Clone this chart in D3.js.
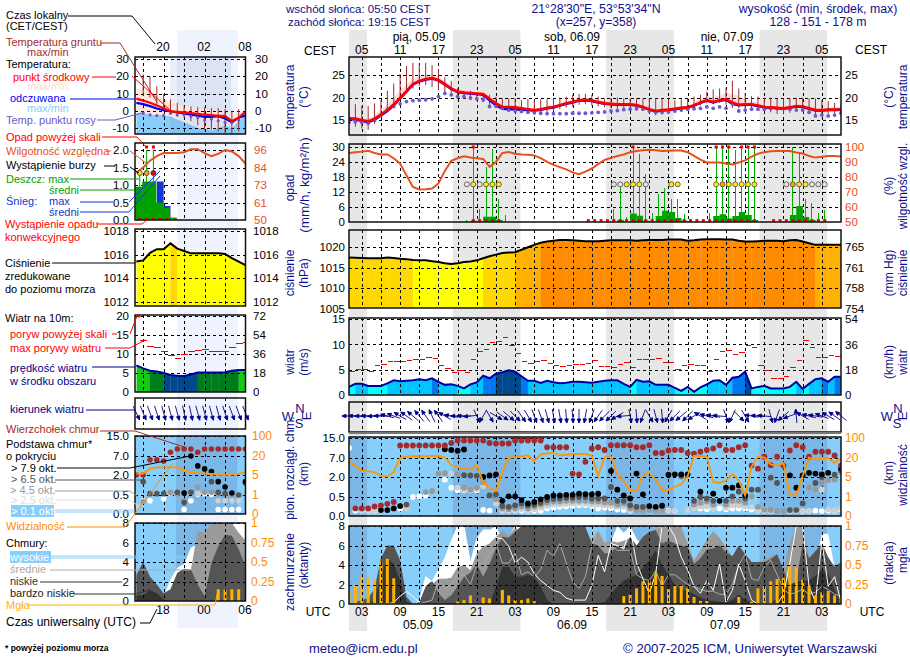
<!DOCTYPE html>
<html>
<head>
<meta charset="utf-8">
<title>meteogram</title>
<script src="https://cdn.jsdelivr.net/npm/d3@7"></script>
<style>
  body { margin: 0; background: #fff; }
  svg { display: block; font-family: "Liberation Sans", Arial, sans-serif; }
  .grid line { stroke: #000; stroke-dasharray: 3 3; shape-rendering: crispEdges; }
  .grid text, .grid path { display: none; }
  .frame { fill: none; stroke: #111; stroke-width: 1.5; }
</style>
</head>
<body>
<svg id="chart" width="910" height="660"></svg>
<script>
// ---- main chart, one value per hour from 01 UTC 05.09
var tempMean = [15.4,15.3,15.0,14.7,15.3,16.2,17.2,18.5,19.9,21.4,
  23.0,23.7,24.1,24.3,23.9,23.0,22.0,21.3,21.1,21.0,
  20.9,20.8,19.7,18.7,17.9,17.9,17.8,17.6,17.4,17.2,
  17.4,17.7,17.9,18.3,18.7,19.0,19.4,19.5,19.3,19.0,
  18.7,18.6,18.5,18.5,18.5,18.3,17.9,17.4,17.0,17.2,
  17.3,17.5,17.7,17.8,18.3,18.9,19.4,19.0,19.4,19.6,
  18.9,18.4,18.5,18.5,18.2,17.9,17.8,17.7,17.6,17.8,
  18.1,18.0,17.6,17.2,17.2,17.3,17.3,17.4];
var tempMax = [15.9,15.8,15.5,15.2,16,17.2,18.5,20,21.6,23,
  24.2,24.8,25,25,24.6,23.6,22.7,22,21.8,21.7,
  21.5,21.3,20.2,19.1,18.3,18.2,18.1,17.9,17.7,17.5,
  17.7,18,18.3,18.7,19.1,19.5,19.9,20,19.8,19.5,
  19.2,19,18.9,18.9,18.9,18.7,18.3,17.8,17.4,17.6,
  17.7,17.9,18.1,18.3,18.8,19.6,20.1,20.1,20.4,21,
  20.8,20.4,19.6,19.2,18.8,18.4,18.2,18.1,18,18.2,
  18.5,18.5,18.1,17.7,17.7,17.8,17.8,17.9];
var tempMin = [14.6,14.6,14.5,14.2,14.8,15.7,16.7,17.7,19.3,20.9,
  22.4,23.1,23.5,23.7,23.3,22.4,21.4,20.8,20.6,20.5,
  20.4,20.3,19.2,18.2,17.4,17.4,17.3,17.1,16.9,16.7,
  16.9,17.2,17.5,17.9,18.3,18.6,19,19.1,18.9,18.6,
  18.3,18.2,18.1,18.1,18.1,17.9,17.5,17,16.6,16.8,
  16.9,17.1,17.3,17.4,17.9,18.5,19,18.6,19,19.1,
  18.4,18,18.1,18.1,17.8,17.5,17.4,17.3,17.2,17.4,
  17.7,17.6,17.2,16.8,16.8,16.9,16.9,17];
var feelsLike = [15.2,15.1,14.8,14.5,15.1,16,17,18.3,19.8,21.3,
  22.9,23.6,24,24.2,23.8,22.9,21.9,21.2,21,20.9,
  20.8,20.6,19.4,18.3,17.5,17.4,17.4,17.3,17.2,17.1,
  17.3,17.6,17.8,18.2,18.6,18.9,19.3,19.4,19.2,18.9,
  18.6,18.5,18.4,18.4,18.4,18.2,17.8,17.3,16.9,17.1,
  17.2,17.4,17.6,17.7,18.2,18.8,19.3,18.9,19.3,19.5,
  18.6,18.3,18.4,18.4,18.1,17.8,17.7,17.6,17.5,17.7,
  18,17.9,17.5,17.1,17.1,17.2,17.2,17.3];
var dewPoint = [14.5,14.6,14.5,14.3,14.9,16.1,17.3,18.0,18.6,19.1,
  19.3,19.4,19.5,19.7,20.2,20.9,20.6,20.2,20.2,19.9,
  19.7,19.5,18.0,18.1,17.6,17.2,17.0,16.9,16.7,16.6,
  16.5,16.4,16.4,16.4,16.4,16.5,16.5,16.5,16.6,16.7,
  16.8,17,17.1,17.3,17.4,17.5,17.4,17,16.7,16.7,
  16.8,17,17.2,17.4,17.5,17.6,17.9,17.6,17.9,17.6,
  18.6,17,17.2,17.4,17.4,17.4,17.5,17.5,17.5,17.4,
  17.2,17.2,16.7,15.9,16.1,15.9,16.1,16.5];
var groundMax = [17.2,18.5,18.1,18.1,18.7,19.4,21.5,23.1,25.2,27,
  27.7,27.7,27.7,27.2,26.3,24.5,23.7,22,21.5,21.5,
  20.9,20.6,20.6,20.2,19.8,19.8,19.8,19.4,19.6,19.6,
  19.6,19.6,19.8,20,20.2,20.6,20.8,20.8,20.6,20.2,
  19.8,19.9,20,19.8,19.8,19.8,19.8,19.8,19.8,19.6,
  19.6,19.4,19.6,19.8,20.2,20.6,21.3,21.8,22,22.2,
  23.7,22,21,20.3,20.2,20,20,19.8,19.8,19.8,
  20,20,19.8,19.8,19.4,19.2,18.8,18.5];
var groundMin = [14.4,13.5,13.1,12.8,14.1,15.7,16.9,17.8,19.4,21.3,
  22,22.6,22.8,22.3,21.7,20.9,20.6,19.7,19.7,19.4,
  19.4,19,18.3,17.6,17.2,17,17,16.8,16.5,16.4,
  16.5,16.8,17,17.4,17.8,18,18.4,18.5,18.2,18,
  17.8,17.6,17.5,17.4,17.5,17.3,17,16.4,16,16.2,
  16.4,16.6,16.8,17,17.6,18.2,18.7,18.5,18.8,18.4,
  17.7,17.6,17.6,17.6,17.3,17,16.7,16.3,16.4,16.6,
  17,17,16.6,16.2,16.2,16.4,16.5,16.6];
var humidity = [96,96.5,96.9,97.5,96,95,95,92.5,88.9,81,
  73.3,71.6,71.8,72.2,75.6,84,90.7,92.5,93.8,93,
  92.5,92,86.7,90,96,96.7,95.5,95,94.8,94.4,
  92.5,90,88,86.5,85,83,81.8,83.5,85.6,88.5,
  91.3,92.7,94,95,96.5,97.3,97.9,98.2,97.9,97.3,
  97.5,97.7,97.7,96.5,94,91.5,89.6,89.6,89.6,89,
  88.3,89.6,91,93.5,95.5,96.5,97.2,97.3,97.3,97.3,
  96.3,95.6,94,92.9,93.5,94,94,93.7];
var pressure = [1017.5,1017.45,1017.4,1017.3,1017.3,1017.3,1017.5,1017.4,1017.2,1017.1,
  1016.9,1016.8,1016.8,1016.6,1016.4,1016.1,1015.9,1016.1,1016.4,1016.5,
  1016.8,1017.3,1017.8,1018.2,1018.6,1018.7,1018.8,1019.4,1020,1020.6,
  1021.1,1021.4,1021.6,1021.8,1021.8,1021.7,1021.6,1021.5,1021.5,1021.5,
  1021.6,1021.7,1021.7,1021.7,1021.7,1021.6,1021.7,1021.8,1021.8,1021.8,
  1021.9,1021.9,1021.9,1021.6,1021.7,1021.9,1022,1022,1022,1021.9,
  1021.9,1021.6,1021.4,1021.4,1021.5,1021.6,1021.6,1021.6,1021.5,1021.7,
  1021.8,1021.4,1021,1020.6,1020.6,1020.6,1020.6,1020.6];
var windSpeed = [1.6,2.2,2.2,1.8,1.8,1.8,2.3,2.9,2.7,2.8,
  2.9,3.1,2.9,3.3,2.6,2,2.1,1.8,1.3,2.1,
  2.5,3.8,3.3,4.2,4.5,4.9,4.6,3.7,2.8,2.8,
  2.4,2.8,2.5,2.3,2.4,2.6,2.6,2.5,2.4,2.6,
  2.8,2.9,2.9,2.2,1.6,3,2.6,2.7,2,2,
  2,1.4,0.8,1.6,0.65,1.5,2.1,2.8,2.9,2,
  3.4,3.6,4.6,1.3,1.6,1.8,1.3,1.3,1.3,1.6,
  2.6,1.2,2.2,3.1,3.3,2.6,3.6,3.6];
var windGust = [4.7,5,5,4.7,5.8,6,6.7,6.7,6.6,6.8,
  7,7,7.5,7.2,5.8,5.2,4.5,4.8,4.5,7,
  8.6,9,10.3,10.6,11.3,9.8,8.2,6.7,6.3,6.6,
  6.8,6.3,5.8,5.6,5.8,6,6,6.3,6.8,5.6,
  5.6,5.4,6,6.4,5.4,7,7,7,7.2,6.4,
  6.4,5,5.8,6,5.8,5.8,4.6,7,8.6,8.8,
  8,8.4,9.7,9.4,5.8,4.8,3.2,3.2,3.7,5.4,
  6.8,10.7,9.4,7.4,7.4,7.8,7.6,8];
var windDir = [270,272,270,270,268,272,285,290,300,305,
  310,320,325,335,325,300,280,270,270,265,
  155,210,150,120,125,130,135,145,150,160,
  160,165,170,170,175,175,180,190,200,215,
  225,225,240,265,170,175,200,150,165,175,
  210,225,230,225,240,300,285,280,275,160,
  205,135,150,280,275,275,165,200,230,250,
  355,300,285,280,290,300,305,310];
var visibility = [17.5,13.5,10,9.4,8.9,6,5.3,9,20,26,
  27,27,27,28,29,22,14.5,12.5,11.5,11,
  14.5,4,2.8,2.2,9,22,23,26,31,17.5,
  35,38,40,31,33,36,36,36,29,5.9,
  23,26,7,4.2,2.2,2.2,6.3,8.4,4.5,2.4,
  2.4,3,3.6,5.5,29,28,26,4,3.8,4.3,
  7.5,4.3,1.3,13,26,22,15,14,16,1.4,
  1.3,6,22,19,20,20,16,20];
var cloudHigh = [0,0,0,0,0,0,0,0,0,0,
  0,0.3,2.8,2.3,3.5,4.7,6.4,8,8,4.2,
  6.7,7.6,7.6,8,6.7,6.9,8,8,6,6,
  6,6,6,6,6,6,6,6,4,5,
  5,6.4,8,7.3,8,6.7,6,6,6,6,
  4,4,4,4,3,3,3,3,3,3,
  3,3,3,3,3,3,3,3,3,4,
  8,8,4,4,7.2,7.2,3.8,3];
var cloudMid = [0,0,0,0,0,0,0,0,0,0,
  0,0,0,2,2.6,2.6,2.7,3.8,4,3.5,
  5.2,5.9,6.2,6.9,7.5,7,7.8,7.5,7.5,7.5,
  7.5,7.5,7.5,7.5,7.5,7.5,7.5,7.5,6.5,7.6,
  6.3,6.5,6.3,6.5,6.8,6,6.5,7.4,7.6,8,
  8,8,7.9,6.2,4.5,5.5,6.6,7.5,6.8,5.8,
  4.9,6,5.1,4.3,4.3,4.5,4.9,5.1,3.5,6.3,
  8,8,4.8,5.5,5.9,4.3,4,4.1];
var cloudLow = [0,0.2,0.4,0.6,1.6,4.7,6,6,4.5,0.75,
  0,0.2,1.8,2.4,1.1,0.4,0.9,1.8,2.8,3.2,
  4.1,2.8,4.1,5.7,6.9,6.8,7.4,8,7.9,7.9,
  7.9,7.9,7.9,7.9,7.9,7.9,7.9,7.9,6.2,6,
  5.2,5.2,6,5.5,6.9,6,6.9,7.4,7.6,6.2,
  6.5,6.2,6,5.8,4.1,4.7,5.6,5.7,6,5.3,
  4.9,6,5.1,4.3,4.3,4.3,4.6,5.1,3.5,2,
  2.3,6.2,4.7,5.4,6.2,4.8,3.8,4.3];
var cloudVeryLow = [0,0,0,0,0.4,2.8,4.7,4.1,2.4,0.2,
  0,0,0,0,0,0,0,0,0,0,
  0,0,0,1.8,3.8,3.8,2.8,2.8,3,2.8,
  1.8,0.4,0,0,0,0,0,0,0,0.1,
  0.2,1,1.8,2.4,2.7,3,3.7,4.5,5.5,4,
  3,2,1.4,1.4,1,0.7,0.4,0.3,0.2,0.2,
  0.4,1,0.4,0.2,0.1,0.1,0.1,0.6,1.4,1.9,
  2.3,2.4,2.4,2.9,3.5,3.1,1.5,0];
var lineHigh = [0,0,0,0,0,0,0,0.17,0.8,1.3,
  0.75,0.2,2.8,2.3,3.5,4.7,6.4,8,8,4.2,
  6.7,7.6,7.6,6.8,6.7,5.9,4.2,4.8,4.3,3.1,
  2.4,1.9,1.4,1.2,0.6,0.4,0.4,0.4,1.9,5,
  3.3,6.2,6,5.7,7.8,4.2,2.6,1.1,3.1,8,
  8,6.9,4.8,3.5,1.8,1.1,2.4,1.4,4.1,0.2,
  1.4,4.1,2.4,0.4,0,0,0,0,1,4.2,
  8,8,1.8,0.2,6.5,1.8,2.8,0.2];
var lineMid = [0,0,0,0,0,0,0,0,0,0,
  0,0,0.2,0.4,2.4,1.5,2,3,3,2,
  4,4,5,6.2,4.2,4.2,5.2,3,3.3,2.8,
  3.5,5.5,4.9,6.2,4.2,2.3,1.6,2.8,6,7.5,
  6.2,6,5.5,5.5,5.5,3,2.6,2.4,3.4,1.8,
  3,3,2.5,2,1.8,1.5,1.3,1.3,1,1,
  2,4,5.1,2.6,2.4,3.8,4.5,3,1.5,1,
  1.2,1.5,1,1.2,1.8,1.5,1,0.8];
var fogIdx = [0,1,2,3,4,5,6,7,8,17,18,19,21,22,24,25,26,27,28,29,30,
  43,44,45,46,47,48,49,50,51,52,53,54,55,56,61,63,64,65,66,67,68,69,70,71,72,73,74,75,76,77];
var fogVal = [0.16,0.24,0.34,0.34,0.32,0.54,0.58,0.33,0.01,0.03,0.05,0.11,0.085,0.07,0.18,0.11,0.05,0.05,0.07,0.04,0.01,
  0.1,0.12,0.2,0.29,0.29,0.39,0.36,0.19,0.24,0.24,0.2,0.09,0.04,0.04,0.09,0.03,0.2,0.24,0.29,0.32,0.33,0.49,0.47,0.31,0.24,0.11,0.15,0.17,0.11,0.05];

// precipitation, index is the hour the amount falls in
var rainMaxIdx = [18,19,20,21,22,23,24,41,42,43,44,45,46,47,48,49,50,51,52,56,57,58,59,60,61,62,63,69,70,71,72,73,74];
var rainMaxVal = [0.8,30,5,22,29,9,2.7,4.9,14,2,30,27,19,3.3,11,13.7,9,9,3,3.3,30,30,30,28.7,30,30,30,30,28,9,7.6,3.3,4.7];
var rainAvgIdx = [19,20,21,22,23,42,44,45,46,48,49,50,51,52,57,58,59,60,61,62,63,69,70,71,72];
var rainAvgVal = [0.4,0.3,2,2,0.7,0.7,3.3,2.4,0.4,2.3,4.4,3.9,1.5,0.4,2.3,3,1.3,2.3,3.9,2.7,0.7,2.7,6.3,1.9,0.7];
var rainOverIdx = [19,44,57,58,59,61,62,63];
var convIdx = [19,20,21,22,23,37,38,39,40,41,42,43,44,45,46,47,48,49,50,51,52,53,54,55,56,57,58,59,60,61,62,63,66,67,68,69,70,71,72,73,74];
var stormIdx = [18,19,20,21,22,23,41,42,43,44,45,46,50,51,57,58,59,60,61,62,63,68,69,70,71,72,73,74];
var stormLevel = [0,1,0,1,1,1,0,0,1,1,1,0,1,1,1,2,1,1,1,1,1,0,2,1,1,0,0,0];

// cloud dots as [hour, km]
var cloudTops = [[1,.2],[2,.2],[3,.2],[4,.25],[5,.28],[6,.32],[7,.37],[8,12],[9,12],[10,12],[11,12],[12,12],[13,12],[14,12],[15,12],
  [16,13],[17,14],[18,14],[19,14],[20,14],[21,14],[22,13],[23,12.8],[24,12.8],[25,12.8],[26,14],[27,14],[28,14],[29,14],[30,14],
  [31,11.3],[32,11.3],[33,11.3],[34,11.3],[35,2.9],[36,2.7],[37,6],[38,10.8],[39,11.3],[40,10.2],[41,12.1],[42,12.1],[43,12.1],[44,12.1],
  [45,11.3],[46,11.3],[47,12.1],[48,9],[49,9],[50,10],[51,10.2],[52,10.2],[53,9],[54,8.7],[55,9.5],[56,10.2],[57,10.8],[58,12.1],[59,10.2],
  [60,10.2],[61,11.3],[62,12.1],[63,5],[64,4.2],[65,7.5],[66,5.1],[67,7.5],[68,5],[69,10],[70,12.1],[71,11.3],[72,7.5],[73,9.5],[74,9.5],[75,9.5],[76,8],[77,5]];
var base79 = [[5,.155],[6,.155],[7,.2],[8,.26],[15,10.5],[16,10.2],[17,9.9],[18,10.4],[21,2],[22,2.4],[23,2.7],[24,.4],[25,.55],[26,.55],[27,.42],[28,.33],[29,.37],[30,.44],
  [31,.5],[32,.62],[33,.62],[34,.66],[35,.66],[36,.75],[37,.72],[38,.7],[39,.75],[41,3.6],[42,1.05],[43,.62],[44,.46],[45,2.9],[46,.7],[47,.26],[48,.24],[49,.27],
  [50,2.6],[51,2.7],[52,2.7],[53,2.7],[55,.9],[57,.75],[58,.4],[59,1.2],[60,1.2],[61,1.37],[62,.62],[69,2.45],[70,1.2],[71,2.45],[72,3.1],[73,2.9],[74,2.7],[75,3.1],[77,4.3]];
var base65 = [[9,.3],[18,2.5],[19,2.4],[20,2.3],[22,.62],[23,.7],[24,.26],[25,.24],[26,.28],[27,.33],[28,.28],[29,.3],[30,.35],[31,.42],[32,.45],[33,.46],[34,.48],[35,.48],
  [36,.5],[37,.5],[38,.46],[39,.46],[40,.46],[41,1.25],[42,.4],[43,.4],[44,.28],[45,.24],[46,.24],[52,2.3],[54,.4],[55,.5],[56,.46],[57,.4],[59,.4],[60,.55],[61,.9],[62,.46],
  [63,1.05],[64,1.05],[66,1.95],[67,1.55],[69,.155],[70,.155],[71,.33],[73,1.55],[74,2],[76,2.6],[77,3.6]];
var base45 = [[12,.87],[13,.95],[14,2.9],[15,3],[17,2.7],[18,1.2],[19,1.05],[20,1.2],[21,1.6],[23,.45],[24,.2],[25,.18],[26,.2],[27,.25],[28,.2],[29,.25],[30,.3],[31,.35],[32,.38],
  [33,.38],[34,.4],[35,.4],[36,.4],[37,.4],[38,.38],[39,.38],[40,.36],[41,.35],[42,.3],[43,.33],[44,.2],[45,.16],[46,.15],[47,.15],[48,.15],[49,.15],[52,2.1],[54,.3],[55,.35],
  [56,.38],[57,.3],[59,.3],[60,.4],[61,.4],[62,.35],[63,.55],[64,.24],[65,.16],[66,.16],[67,.13],[68,.13],[72,1.2],[73,1.05],[74,1.55],[75,1.75],[76,1.8]];
var base25 = [[2,.13],[3,.15],[4,.15],[9,.2],[16,2.9],[17,1.2],[18,1.05],[19,1.05],[20,1.1],[21,1.3],[23,.32],[24,.15],[25,.14],[26,.15],[27,.18],[28,.15],[29,.18],[30,.22],[31,.27],
  [32,.3],[33,.3],[34,.32],[35,.33],[36,.33],[37,.33],[38,.3],[39,.3],[40,.28],[41,.27],[42,.24],[43,.24],[44,.15],[47,.13],[49,.15],[50,.13],[51,.13],[53,.15],[54,.2],[55,.25],
  [56,.25],[57,.2],[59,.22],[60,.28],[61,.28],[62,.25],[63,.24],[64,.13],[65,.16],[66,.13],[69,.12],[71,.12],[72,.13],[73,1.05],[74,1.05],[75,.17],[76,.15],[77,.2]];
var base01 = [[0,11],[1,.14],[2,.14],[3,.14],[4,.14],[5,.15],[8,.2],[10,.5],[11,.55],[12,.6],[15,1.8],[16,1.2],[17,1],[18,1],[19,1],[20,1],[21,.16],[22,.14],[24,.14],[25,.14],[26,.14],[27,.14],
  [28,.14],[29,.14],[30,.14],[31,.2],[32,.22],[33,.24],[34,.25],[35,.27],[36,.28],[37,.29],[38,.26],[39,.2],[40,.22],[41,.2],[42,.17],[43,.16],[44,.14],[50,.14],[51,.13],[55,.2],[56,.18],
  [57,.2],[58,.2],[59,.18],[60,.2],[61,.2],[62,.2],[63,.17],[64,.14],[65,.14],[66,.13],[70,.14],[71,.12],[72,.13],[73,.14],[74,.13],[75,.14],[76,.14],[77,.17]];

// tick labels
var hoursCest = ["05","11","17","23","05","11","17","23","05","11","17","23","05"];
var hoursUtc = ["03","09","15","21","03","09","15","21","03","09","15","21","03"];
var dayLabels = ["pią, 05.09","sob, 06.09","nie, 07.09"];
var dateLabels = ["05.09","06.09","07.09"];
var nights = [[-1,2.83],[16.25,26.83],[40.25,50.83],[64.25,74.83]];

// ---- small legend chart, one value per hour from 14 UTC
var legTemp = [7,5.9,4.6,3,1.5,-0.4,-0.6,-0.9,-1.3,-1.8,-2.3,-2.5,-3,-3,-6,-4,-0.6];
var legFeels = [4.6,3.8,2.7,1.3,0.3,-0.3,-1,-1.6,-2.3,-2.8,-3.5,-3.5,-3.2,-4.5,-6.7,-4,-2.7];
var legTempMax = [13,12.5,11,9,7,5,3.5,2.6,2,1.2,0.5,0,-0.8,-2,-3,-1.6,0.4];
var legTempMin = [-1.4,-1.6,-2,-2.4,-2.6,-3.2,-3.4,-3.4,-4,-4.8,-5,-5,-5,-6,-8,-6,-2.4];
var legFeelsMin = [-1.4,-1.6,-2,-2.4,-2.6,-3.2,-5,-6.6,-8.3,-10,-10.6,-11.4,-10,-8.6,-10,-6,-2.4];
var legDew = [null,-1.4,-2.4,-2.8,-2.8,-1.4,-2.4,-2.4,-3.4,-4,-5.4,-4.8,-5.8,-6.8,-7,-5.4,null];
var legGroundMax = [null,21,19.6,14.2,9.6,6.6,4.6,3,2.5,2,2,1.5,1.5,1,0,1,3];
var legGroundMin = [null,8.5,7.6,3.6,-0.4,-2.4,-3.4,-4,-6,-8.4,-11,-11,-12,-13,-14,-12,-3];
var legRh = [81,84.5,89,92,94,94,94,94.5,96.5,96.5,94,92,93.5,96,95,92,87];
var legRainAvg = [0.95,1.1,1.1,0.5,0.35,0.07];
var legSnowMax = [0,0,0,1.1,0.4,0];
var legRainMax = [1.35,2,2];
var legStorm = [1,2,3];
var legPressure = [1015.4,1015.5,1016.15,1016.45,1016.45,1016.95,1016.5,1016.3,1016.1,1016.1,1016.1,1016.1,1016.1,1016.05,1015.7,1015.4,1015.1];
var legWind = [7,6.2,5.6,5.4,5,4.5,4.3,4.2,4.6,5.1,5.1,5.1,5.1,5.2,5.6,5.8,5.8];
var legGust = [20,13.6,11.9,11.6,10.6,9.7,8.9,9.9,10.6,11,11.1,10.7,10.7,10.7,11.7,12.7,13];
var legDir = [155,158,160,162,165,165,165,168,168,165,165,165,165,162,160,160,158];
var legVis = [6.2,6.2,10,11,11,11,11,8.5,7,6.5,6.3,5.8,5.2,5.2,5.4,6,7];
var legTops = [2,2,6,6,5.7,8.5,9.8,9.8,9.8,8.5,9.8,9.8,9.8,9.8,9.8,9.8,9.8];
var leg79 = [[7,.65],[8,7],[9,4.4],[10,3.6],[11,2.9],[12,1.5],[13,1.1],[14,.65],[16,1.5]];
var leg65 = [[1,1.5],[2,.6],[3,.6],[4,.6],[6,.7],[7,.3],[8,.7],[11,1.5],[12,.7],[13,.6],[15,.5],[16,1.4]];
var leg45 = [[1,.33],[5,.7],[6,.6],[7,.35],[9,1.1],[10,.7],[11,.7],[12,.6],[14,.5]];
var leg25 = [[0,.2],[5,.6],[9,.6],[12,.35],[13,.35],[14,.35],[15,.35]];
var leg01 = [[1,.35],[2,.35],[4,.4],[7,.12],[8,.35],[9,.55],[10,.6],[11,.55],[12,.12],[13,.12],[14,.12],[15,.12]];
var legHigh = [0,0,0,0,0.5,2.2,3.4,3.8,5.5,5.8,7,7.8,8,8,8,8,8];
var legMid = [0,0,0,0,0,0,0,0,3.2,7.2,7,8,8,8,8,7,6.2];
var legLow = [2.7,4,2.5,1.7,0.8,1.2,2.9,3.3,3.2,1.7,0.5,3.9,5.6,6.8,6.7,5.3,3.6];
var legVeryLow = [0.6,0.6,1.1,0.8,0.15,0,0,0,0,0,0,0,0,0,0,0,0];
var legFogIdx = [12,13,14,15];
var legFog = [0.15,0.15,0.15,0.15];
var legTopHours = ["20","02","08"];
var legBottomHours = ["18","00","06"];

var svg = d3.select("#chart");
var NAVY = "#10108c", ORANGE = "#ff8c00", RHRED = "#e8501a", BROWN = "#a52a2a", SKY = "#87cefa";
var night = "#e7e7e7";

var x = d3.scaleLinear().domain([0, 77]).range([349, 841]);
var xLeg = d3.scaleLinear().domain([-0.2, 16]).range([135, 245.5]);
var hourTicks = d3.range(2, 77, 3);
var legTicks = [1, 4, 7, 10, 13, 16];

// background bands
svg.selectAll(".night").data(nights).enter().append("rect")
  .attr("x", function(d) { return x(Math.max(d[0], 0)); }).attr("y", 30)
  .attr("width", function(d) { return x(d[1]) - x(Math.max(d[0], 0)); }).attr("height", 601)
  .attr("fill", night);
svg.append("rect").attr("x", xLeg(5.95)).attr("y", 30).attr("width", 61).attr("height", 598).attr("fill", "#eef3fe");

function txt(t, px, py, color, size, anchor, weight) {
  return svg.append("text").attr("x", px).attr("y", py).attr("dy", "0.35em").attr("fill", color || "#000")
    .attr("font-size", size || 11).attr("text-anchor", anchor || "start").attr("font-weight", weight || null).text(t);
}
function vtxt(t, px, py, color, size) {
  return svg.append("text").attr("transform", "translate(" + px + "," + py + ") rotate(-90)")
    .attr("dy", "0.35em").attr("text-anchor", "middle").attr("fill", color || NAVY).attr("font-size", size || 12).text(t);
}
var clipN = 0;
function clipRect(x0, x1, y0, y1) {
  var id = "clip" + (clipN++);
  svg.append("clipPath").attr("id", id).append("rect").attr("x", x0).attr("y", y0).attr("width", x1 - x0).attr("height", y1 - y0);
  return "url(#" + id + ")";
}
function panelGroup(xs, y0, y1) {
  var r = xs.range();
  return svg.append("g").attr("clip-path", clipRect(r[0], r[1], y0, y1));
}
function grid(xs, yv, tv, y0, y1, xt) {
  var r = xs.range();
  var g = svg.append("g").attr("clip-path", clipRect(r[0], r[1], y0, y1));
  g.append("g").attr("class", "grid").attr("transform", "translate(" + r[0] + ",0)")
    .call(d3.axisLeft(yv).tickValues(tv).tickSize(-(r[1] - r[0])).tickFormat(""));
  g.append("g").attr("class", "grid").attr("transform", "translate(0," + y0 + ")")
    .call(d3.axisBottom(xs).tickValues(xt).tickSize(y1 - y0).tickFormat(""));
}
function frame(xs, y0, y1) {
  var r = xs.range();
  svg.append("rect").attr("class", "frame").attr("x", r[0]).attr("y", y0).attr("width", r[1] - r[0]).attr("height", y1 - y0);
}
function leftAxis(px, yv, tv, fmt, color, size) {
  var g = svg.append("g").attr("transform", "translate(" + px + ",0)")
    .call(d3.axisLeft(yv).tickValues(tv).tickFormat(fmt).tickSize(0).tickPadding(0));
  g.select(".domain").remove();
  g.selectAll("text").attr("fill", color || "#000").attr("font-size", size || 11.5).attr("font-family", "Liberation Sans");
}
function rightAxis(px, yv, tv, fmt, color, size) {
  var g = svg.append("g").attr("transform", "translate(" + px + ",0)")
    .call(d3.axisRight(yv).tickValues(tv).tickFormat(fmt).tickSize(0).tickPadding(0));
  g.select(".domain").remove();
  g.selectAll("text").attr("fill", color || "#000").attr("font-size", size || 11.5).attr("font-family", "Liberation Sans");
}
function same(d) { return d; }
function dotSeries(g, xs, yv, data, color, r) {
  g.selectAll(null).data(data).enter().append("circle")
    .attr("cx", function(d) { return xs(d[0]); }).attr("cy", function(d) { return yv(d[1]); })
    .attr("r", r).attr("fill", color);
}
// filled columns with colour by value, cut along the value line
function columns(g, xs, yv, data, y1, color) {
  var area = d3.area().x(function(d, i) { return xs(i); }).y0(y1).y1(function(d) { return yv(d); });
  var id = "clip" + (clipN++);
  svg.append("clipPath").attr("id", id).append("path").attr("d", area(data));
  g.append("g").attr("clip-path", "url(#" + id + ")").selectAll("rect").data(data).enter().append("rect")
    .attr("x", function(d, i) { return xs(i) - 0.1; }).attr("y", yv.range()[1] - 40)
    .attr("width", xs(1) - xs(0) + 0.3).attr("height", 200)
    .attr("fill", function(d) { return color(d); });
}
function arrows(g, xs, cy, dirs, len) {
  g.selectAll(null).data(dirs).enter().append("path")
    .attr("d", function(d, i) {
      var a = d * Math.PI / 180, dx = Math.sin(a), dy = -Math.cos(a);
      var cx = xs(i), hx = cx + dx * len / 2, hy = cy + dy * len / 2, tx = cx - dx * len / 2, ty = cy - dy * len / 2;
      var b = hx - dx * 4, c = hy - dy * 4;
      return "M" + tx + "," + ty + "L" + hx + "," + hy + "M" + hx + "," + hy +
        "L" + (b - dy * 1.8) + "," + (c + dx * 1.8) + "L" + (b + dy * 1.8) + "," + (c - dx * 1.8) + "Z";
    })
    .attr("stroke", "#00008b").attr("stroke-width", 0.9).attr("fill", "#00008b");
}
function lineOf(xs, yv) {
  return d3.line().defined(function(d) { return d !== null; }).x(function(d, i) { return xs(i); }).y(function(d) { return yv(d); });
}
var pressColor = d3.scaleThreshold().domain([1016.95, 1018.8, 1020.8]).range(["#ffff00", "#ffd800", "#ffb000", "#ff8c00"]);
var windColor = d3.scaleThreshold().domain([2, 3.2, 4, 5.05, 5.7]).range(["#00ffff", "#00c4ff", "#0078f0", "#004a8c", "#007c1c", "#14c814"]);

// ---- temperature, main
var yT = d3.scaleLinear().domain([15, 25]).range([120, 75]);
var g = panelGroup(x, 57, 135);
g.append("path").attr("d", d3.area().x(function(d, i) { return x(i); }).y0(function(d, i) { return yT(tempMin[i]); }).y1(function(d) { return yT(d); })(tempMax)).attr("fill", "#ffd9de");
grid(x, yT, [15, 20, 25], 57, 135, hourTicks);
g = panelGroup(x, 57, 135);
g.selectAll(null).data(groundMax).enter().append("line")
  .attr("x1", function(d, i) { return x(i); }).attr("x2", function(d, i) { return x(i); })
  .attr("y1", function(d) { return yT(d); }).attr("y2", function(d, i) { return yT(groundMin[i]); })
  .attr("stroke", BROWN).attr("stroke-width", 1);
g.append("path").attr("d", lineOf(x, yT)(feelsLike)).attr("fill", "none").attr("stroke", "#0000ff").attr("stroke-width", 2.5);
g.selectAll(null).data(dewPoint).enter().append("circle").attr("cx", function(d, i) { return x(i); }).attr("cy", function(d) { return yT(d); }).attr("r", 1.9).attr("fill", "#6a5acd");
g.append("path").attr("d", lineOf(x, yT)(tempMean)).attr("fill", "none").attr("stroke", "#ff0000").attr("stroke-width", 2.6);
frame(x, 57, 135);
leftAxis(345, yT, [15, 20, 25], same);
rightAxis(845, yT, [15, 20, 25], same);

// ---- precipitation and humidity, main
var yP = d3.scaleLinear().domain([0, 30]).range([221.7, 147]);
var yRh = d3.scaleLinear().domain([50, 100]).range([221.7, 147]);
g = panelGroup(x, 144, 222);
grid(x, yP, [0, 6, 12, 18, 24, 30], 144, 222, hourTicks);
g = panelGroup(x, 144, 222);
var xHalf = function(i) { return x(i + 0.45); };
g.selectAll(null).data(rainAvgIdx).enter().append("rect")
  .attr("x", function(d) { return x(d) ; }).attr("width", x(1) - x(0) + 0.2)
  .attr("y", function(d, i) { return yP(rainAvgVal[i]); }).attr("height", function(d, i) { return yP(0) - yP(rainAvgVal[i]); })
  .attr("fill", "#00a000");
g.selectAll(null).data(rainMaxIdx).enter().append("line")
  .attr("x1", xHalf).attr("x2", xHalf)
  .attr("y1", function(d, i) { return yP(rainMaxVal[i]); }).attr("y2", yP(0))
  .attr("stroke", "#00b000").attr("stroke-width", 1).attr("shape-rendering", "crispEdges");
g.append("path").attr("d", lineOf(x, yRh)(humidity)).attr("fill", "none").attr("stroke", RHRED).attr("stroke-width", 2);
g.selectAll(null).data(rainOverIdx).enter().append("rect").attr("x", function(d) { return xHalf(d) - 1.5; }).attr("y", yP(30) - 1.5).attr("width", 3).attr("height", 3).attr("fill", "#ee0000");
g.selectAll(null).data(convIdx).enter().append("rect").attr("x", function(d) { return xHalf(d) - 1.5; }).attr("y", yP(0) - 2.5).attr("width", 3).attr("height", 2.5).attr("fill", "#e00000");
var stormColor = ["#e8e8e8", "#ffee00", "#ffa500", "#ee0000"];
g.selectAll(null).data(stormIdx).enter().append("circle").attr("cx", xHalf).attr("cy", yP(15))
  .attr("r", 2.5).attr("fill", function(d, i) { return stormColor[stormLevel[i]]; }).attr("stroke", "#444").attr("stroke-width", 0.8);
frame(x, 144, 222);
leftAxis(345, yP, [0, 6, 12, 18, 24, 30], same);
rightAxis(845, yRh, [50, 60, 70, 80, 90, 100], same, RHRED);

// ---- pressure, main
var yPr = d3.scaleLinear().domain([1005, 1020]).range([308.5, 247.3]);
g = panelGroup(x, 230, 308);
columns(g, x, yPr, pressure, 308, pressColor);
grid(x, yPr, [1005, 1010, 1015, 1020], 230, 308, hourTicks);
g = panelGroup(x, 230, 308);
g.append("path").attr("d", lineOf(x, yPr)(pressure)).attr("fill", "none").attr("stroke", "#000").attr("stroke-width", 2);
frame(x, 230, 308);
leftAxis(345, yPr, [1005, 1010, 1015, 1020], same);
rightAxis(845, yPr, [1005, 1010, 1015, 1020], function(d) { return Math.round(d * 0.75006); });

// ---- wind, main
var yW = d3.scaleLinear().domain([0, 15]).range([395, 319]);
g = panelGroup(x, 318, 395);
columns(g, x, yW, windSpeed, 395, windColor);
grid(x, yW, [0, 5, 10, 15], 318, 395, hourTicks);
g = panelGroup(x, 318, 395);
g.append("path").attr("d", lineOf(x, yW)(windSpeed)).attr("fill", "none").attr("stroke", "#0000a0").attr("stroke-width", 2);
g.selectAll(null).data(windGust).enter().append("line")
  .attr("x1", function(d, i) { return x(i) + 0.5; }).attr("x2", function(d, i) { return x(i + 1) - 0.5; })
  .attr("y1", function(d) { return yW(d); }).attr("y2", function(d) { return yW(d); })
  .attr("stroke", "#ee0000").attr("stroke-width", 1).attr("shape-rendering", "crispEdges");
frame(x, 318, 395);
leftAxis(345, yW, [0, 5, 10, 15], same);
rightAxis(845, yW, [0, 5, 10, 15], function(d) { return d * 3.6; });

// ---- wind direction, main
var yNone = d3.scaleLinear().domain([0, 1]).range([432, 402]);
grid(x, yNone, [], 402, 432, hourTicks);
arrows(svg.append("g"), x, 416, windDir, 14);
frame(x, 402, 432);
svg.append("line").attr("x1", 349).attr("x2", 841).attr("y1", 433).attr("y2", 433).attr("stroke", "#777").attr("stroke-width", 2);

// ---- cloud base and visibility, main
var baseDom = [0, 0.5, 2, 7, 15], visDom = [0, 1, 5, 20, 100];
var yB = d3.scaleLinear().domain(baseDom).range([516, 497, 477, 458, 438]);
var yV = d3.scaleLinear().domain(visDom).range([516, 497, 477, 458, 438]);
function skyPanel(xs, y0, y1, bands) {
  var p = panelGroup(xs, y0, y1);
  p.append("rect").attr("x", xs.range()[0]).attr("y", y0).attr("width", xs.range()[1] - xs.range()[0]).attr("height", y1 - y0).attr("fill", SKY);
  p.selectAll(null).data(bands).enter().append("rect")
    .attr("x", function(d) { return xs(d[0]); }).attr("y", y0)
    .attr("width", function(d) { return xs(d[1]) - xs(d[0]); }).attr("height", y1 - y0)
    .attr("fill", "#7ab7e6");
  return p;
}
g = skyPanel(x, 437, 516, nights);
grid(x, yB, baseDom, 437, 516, hourTicks);
g = panelGroup(x, 437, 516);
dotSeries(g, x, yB, base01, "#fff", 2.9);
dotSeries(g, x, yB, base25, "#cfcfcf", 2.9);
dotSeries(g, x, yB, base45, "#999", 2.9);
dotSeries(g, x, yB, base65, "#555", 2.9);
dotSeries(g, x, yB, base79, "#000", 2.9);
dotSeries(g, x, yB, cloudTops, BROWN, 2.9);
g.append("path").attr("d", lineOf(x, yV)(visibility)).attr("fill", "none").attr("stroke", "#ff9500").attr("stroke-width", 1.8);
frame(x, 437, 516);
leftAxis(345, yB, baseDom, d3.format(".1f"));
rightAxis(845, yV, visDom, same, ORANGE, 12);

// ---- cloud cover and fog, main
var yC = d3.scaleLinear().domain([0, 8]).range([604, 526]);
var yF = d3.scaleLinear().domain([0, 1]).range([604, 526]);
function cloudAreas(p, xs, yv, layers, colors) {
  layers.forEach(function(l, k) {
    p.append("path").attr("d", d3.area().x(function(d, i) { return xs(i); }).y0(yv(0)).y1(function(d) { return yv(d); })(l)).attr("fill", colors[k]);
  });
}
g = skyPanel(x, 526, 604, nights);
cloudAreas(g, x, yC, [cloudHigh, cloudMid, cloudLow, cloudVeryLow], ["#fff", "#9a9a9a", "#555", "#333"]);
g.append("path").attr("d", lineOf(x, yC)(lineMid)).attr("fill", "none").attr("stroke", "#aaa").attr("stroke-width", 1);
g.append("path").attr("d", lineOf(x, yC)(lineHigh)).attr("fill", "none").attr("stroke", "#fff").attr("stroke-width", 1);
g.selectAll(null).data(fogIdx).enter().append("rect")
  .attr("x", function(d) { return x(d) - 1.5; }).attr("width", 3)
  .attr("y", function(d, i) { return yF(fogVal[i]); }).attr("height", function(d, i) { return yF(0) - yF(fogVal[i]); })
  .attr("fill", "#ffb300");
grid(x, yC, [0, 2, 4, 6, 8], 526, 604, hourTicks);
frame(x, 526, 604);
leftAxis(345, yC, [0, 2, 4, 6, 8], same);
rightAxis(845, yF, [0, 0.25, 0.5, 0.75, 1], same, ORANGE, 12);

// ---- legend chart
var yLT = d3.scaleLinear().domain([-10, 30]).range([128, 59]);
g = panelGroup(xLeg, 57, 134);
g.append("path").attr("d", d3.area().x(function(d, i) { return xLeg(i); }).y0(134).y1(function(d) { return yLT(d); })(legFeelsMin)).attr("fill", SKY);
g.append("rect").attr("x", 170).attr("y", 57).attr("width", 61).attr("height", 77).attr("fill", "#5a78b8").attr("opacity", 0.13);
g.append("path").attr("d", d3.area().x(function(d, i) { return xLeg(i); }).y0(function(d, i) { return yLT(legTempMin[i]); }).y1(function(d) { return yLT(d); })(legTempMax)).attr("fill", "#ffe6da");
grid(xLeg, yLT, [-10, 0, 10, 20, 30], 57, 134, legTicks);
g = panelGroup(xLeg, 57, 134);
legGroundMax.forEach(function(d, i) {
  if (d === null) return;
  g.append("line").attr("x1", xLeg(i)).attr("x2", xLeg(i)).attr("y1", yLT(d)).attr("y2", yLT(legGroundMin[i]))
    .attr("stroke", BROWN).attr("stroke-width", 1);
});
g.append("path").attr("d", lineOf(xLeg, yLT)(legFeels)).attr("fill", "none").attr("stroke", "#0000ff").attr("stroke-width", 2.2);
legDew.forEach(function(d, i) { if (d !== null) g.append("circle").attr("cx", xLeg(i)).attr("cy", yLT(d)).attr("r", 1.6).attr("fill", "#6a5acd"); });
g.append("path").attr("d", lineOf(xLeg, yLT)(legTemp)).attr("fill", "none").attr("stroke", "#ff0000").attr("stroke-width", 2.2);
frame(xLeg, 57, 134);
leftAxis(129, yLT, [-10, 0, 10, 20, 30], same);
rightAxis(255, yLT, [-10, 0, 10, 20, 30], same);

var yLP = d3.scaleLinear().domain([0, 2]).range([220, 150]);
var yLR = d3.scaleLinear().domain([50, 96]).range([220, 150]);
grid(xLeg, yLP, [0, 0.5, 1, 1.5, 2], 143, 220, legTicks);
g = panelGroup(xLeg, 143, 220);
g.selectAll(null).data(legSnowMax).enter().append("rect").attr("x", function(d, i) { return xLeg(i); }).attr("width", xLeg(1) - xLeg(0))
  .attr("y", function(d) { return yLP(d); }).attr("height", function(d) { return yLP(0) - yLP(d); }).attr("fill", "#1436d2");
g.selectAll(null).data(legRainAvg).enter().append("rect").attr("x", function(d, i) { return xLeg(i) - 1; }).attr("width", xLeg(1) - xLeg(0) + 0.5)
  .attr("y", function(d) { return yLP(d); }).attr("height", function(d) { return yLP(0) - yLP(d); }).attr("fill", "#00a000");
g.selectAll(null).data(legRainMax).enter().append("line")
  .attr("x1", function(d, i) { return xLeg(i + 0.5); }).attr("x2", function(d, i) { return xLeg(i + 0.5); })
  .attr("y1", function(d) { return yLP(d); }).attr("y2", 220).attr("stroke", "#00a000");
g.append("path").attr("d", lineOf(xLeg, yLR)(legRh)).attr("fill", "none").attr("stroke", RHRED).attr("stroke-width", 2);
g.selectAll(null).data([0, 1, 2, 3, 4]).enter().append("rect").attr("x", function(d) { return xLeg(d + 0.5) - 1.5; }).attr("y", 218).attr("width", 3).attr("height", 2).attr("fill", "#e00000");
frame(xLeg, 143, 220);
svg.selectAll(null).data(legStorm).enter().append("circle").attr("cx", function(d, i) { return xLeg(i + 0.5); }).attr("cy", 173)
  .attr("r", 2.5).attr("fill", function(d) { return stormColor[d]; }).attr("stroke", "#333").attr("stroke-width", 0.8);
svg.selectAll(null).data(legStorm.slice(1)).enter().append("rect").attr("x", function(d, i) { return xLeg(i + 1.5) - 1.5; }).attr("y", 145.5).attr("width", 3).attr("height", 3).attr("fill", "#ee0000");
leftAxis(129, yLP, [0, 0.5, 1, 1.5, 2], d3.format(".1f"));
rightAxis(254, yLR, [50, 61, 73, 84, 96], same, RHRED);

var yLPr = d3.scaleLinear().domain([1012, 1018]).range([301.5, 231]);
g = panelGroup(xLeg, 229, 306);
columns(g, xLeg, yLPr, legPressure, 306, pressColor);
grid(xLeg, yLPr, [1012, 1014, 1016, 1018], 229, 306, legTicks);
g = panelGroup(xLeg, 229, 306);
g.append("path").attr("d", lineOf(xLeg, yLPr)(legPressure)).attr("fill", "none").attr("stroke", "#000").attr("stroke-width", 2);
frame(xLeg, 229, 306);
leftAxis(129, yLPr, [1012, 1014, 1016, 1018], same);
rightAxis(253, yLPr, [1012, 1014, 1016, 1018], same);

var yLW = d3.scaleLinear().domain([0, 20]).range([392, 316]);
g = panelGroup(xLeg, 315, 392);
columns(g, xLeg, yLW, legWind, 392, windColor);
grid(xLeg, yLW, [0, 5, 10, 15, 20], 315, 392, legTicks);
g = panelGroup(xLeg, 315, 392);
g.append("path").attr("d", lineOf(xLeg, yLW)(legWind)).attr("fill", "none").attr("stroke", "#0000a0").attr("stroke-width", 2);
g.selectAll(null).data(legGust.slice(1)).enter().append("line")
  .attr("x1", function(d, i) { return xLeg(i + 0.6); }).attr("x2", function(d, i) { return xLeg(i + 1.6); })
  .attr("y1", function(d) { return yLW(d); }).attr("y2", function(d) { return yLW(d); })
  .attr("stroke", "#ee0000").attr("stroke-width", 1).attr("shape-rendering", "crispEdges");
frame(xLeg, 315, 392);
svg.append("circle").attr("cx", xLeg(0.4)).attr("cy", yLW(legGust[0])).attr("r", 1.6).attr("fill", "#ee0000");
leftAxis(129, yLW, [0, 5, 10, 15, 20], same);
rightAxis(253, yLW, [0, 5, 10, 15, 20], function(d) { return d * 3.6; });

var yLNone = d3.scaleLinear().domain([0, 1]).range([429, 398]);
grid(xLeg, yLNone, [], 398, 429, legTicks);
arrows(svg.append("g"), xLeg, 413, legDir, 15);
frame(xLeg, 398, 429);

var yLB = d3.scaleLinear().domain(baseDom).range([514, 495, 475, 456, 436]);
var yLV = d3.scaleLinear().domain(visDom).range([514, 495, 475, 456, 436]);
var legBands = [[5.8, 14.8]];
g = skyPanel(xLeg, 436, 514, legBands);
grid(xLeg, yLB, baseDom, 436, 514, legTicks);
g = panelGroup(xLeg, 436, 514);
dotSeries(g, xLeg, yLB, leg01, "#fff", 2.8);
dotSeries(g, xLeg, yLB, leg25, "#cfcfcf", 2.8);
dotSeries(g, xLeg, yLB, leg45, "#999", 2.8);
dotSeries(g, xLeg, yLB, leg65, "#555", 2.8);
dotSeries(g, xLeg, yLB, leg79, "#000", 2.8);
dotSeries(g, xLeg, yLB, legTops.map(function(d, i) { return [i, d]; }), BROWN, 2.8);
g.append("path").attr("d", lineOf(xLeg, yLV)(legVis)).attr("fill", "none").attr("stroke", "#ff9500").attr("stroke-width", 1.8);
frame(xLeg, 436, 514);
leftAxis(129, yLB, baseDom, d3.format(".1f"));
rightAxis(252, yLV, visDom, same, ORANGE, 12);

var yLC = d3.scaleLinear().domain([0, 8]).range([601, 523]);
var yLF = d3.scaleLinear().domain([0, 1]).range([601, 523]);
g = skyPanel(xLeg, 523, 601, legBands);
cloudAreas(g, xLeg, yLC, [legHigh, legMid, legLow, legVeryLow], ["#fff", "#9a9a9a", "#555", "#333"]);
g.selectAll(null).data(legFogIdx).enter().append("rect")
  .attr("x", function(d) { return xLeg(d) - 1.5; }).attr("width", 3)
  .attr("y", function(d, i) { return yLF(legFog[i]); }).attr("height", function(d, i) { return yLF(0) - yLF(legFog[i]); })
  .attr("fill", "#ffb300");
grid(xLeg, yLC, [0, 2, 4, 6, 8], 523, 601, legTicks);
frame(xLeg, 523, 601);
leftAxis(129, yLC, [0, 2, 4, 6, 8], same);
rightAxis(251, yLF, [0, 0.25, 0.5, 0.75, 1], same, ORANGE, 12);

// ---- time labels
hoursCest.forEach(function(h, i) { txt(h, x(2 + i * 6), 50, "#000", 12, "middle"); });
hoursUtc.forEach(function(h, i) { txt(h, x(2 + i * 6), 612, "#000", 12, "middle"); });
dayLabels.forEach(function(h, i) { txt(h, [419, 572, 727][i], 37, "#000", 12, "middle"); });
dateLabels.forEach(function(h, i) { txt(h, [418, 572, 725][i], 625, "#000", 12, "middle"); });
txt("CEST", 320, 51, "#000", 12, "middle"); txt("CEST", 871, 50, "#000", 12, "middle");
txt("UTC", 318, 612, "#000", 12, "middle"); txt("UTC", 872, 612, "#000", 12, "middle");
legTopHours.forEach(function(h, i) { txt(h, [163, 204, 245][i], 47, "#000", 12, "middle"); });
legBottomHours.forEach(function(h, i) { txt(h, [163, 204, 245][i], 610, "#000", 12, "middle"); });

// ---- header and footer
txt("wschód słońca: 05:50 CEST", 286, 9, NAVY, 11.5);
txt("zachód słońca: 19:15 CEST", 288, 22, NAVY, 11.5);
txt("21°28'30\"E, 53°53'34\"N", 596, 9, NAVY, 12.3, "middle");
txt("(x=257,  y=358)", 596, 22, NAVY, 12, "middle");
txt("wysokość (min, środek, max)", 818, 9, NAVY, 12.3, "middle");
txt("128 - 151 - 178 m", 818, 22, NAVY, 12.3, "middle");
txt("meteo@icm.edu.pl", 309, 648, NAVY, 13);
txt("© 2007-2025 ICM, Uniwersytet Warszawski", 623, 648, NAVY, 13.2);
txt("* powyżej poziomu morza", 5, 648, "#000", 8.5, "start", "bold");

// ---- vertical panel titles
vtxt("temperatura", 290, 97); vtxt("(°C)", 304, 97);
vtxt("opad", 290, 188); vtxt("(mm/h, kg/m²/h)", 304, 185, NAVY, 13.5);
vtxt("ciśnienie", 290, 273); vtxt("(hPa)", 304, 273);
vtxt("wiatr", 290, 362); vtxt("(m/s)", 304, 362);
vtxt("pion. rozciągł. chm.", 290, 468); vtxt("(km)", 304, 474);
vtxt("zachmurzenie", 290, 572, NAVY, 12.5); vtxt("(oktanty)", 304, 565);
vtxt("temperatura", 903, 97); vtxt("(°C)", 889, 97);
vtxt("wilgotność wzgl.", 903, 186); vtxt("(%)", 889, 186);
vtxt("ciśnienie", 903, 273); vtxt("(mm Hg)", 889, 273);
vtxt("wiatr", 903, 362); vtxt("(km/h)", 889, 362);
vtxt("widzialność", 903, 475); vtxt("(km)", 889, 473);
vtxt("mgła", 903, 560); vtxt("(frakcja)", 889, 563);
[[288, 416, "W"], [300, 408, "N"], [299, 423, "S"], [887, 416, "W"], [898, 408, "N"], [897, 423, "S"]].forEach(function(d) {
  txt(d[2], d[0], d[1], NAVY, 13, "middle");
});
vtxt("E", 306, 416, NAVY, 13); vtxt("E", 902, 416, NAVY, 13);

// ---- legend words
var legendText = [
  ["Czas lokalny", 6, 15, "#000"], ["(CET/CEST)", 6, 26, "#000"],
  ["Temperatura gruntu", 6, 42, BROWN], ["max/min", 27, 52, BROWN],
  ["Temperatura:", 6, 64, "#000"], ["punkt środkowy", 13, 77, "#ff0000"], ["max/min", 27, 86.5, "#ffdccb"],
  ["odczuwana", 10, 98.5, "#0000ff"], ["max/min", 27, 108, SKY], ["Temp. punktu rosy", 6, 120, "#6a5acd"],
  ["Opad powyżej skali", 6, 137, "#ff0000"], ["Wilgotność względna", 6, 151, RHRED], ["Wystąpienie burzy", 6, 165, "#000"],
  ["Deszcz: max", 6, 179, "#00a000"], ["średni", 49, 190, "#00a000"], ["Śnieg:", 6, 201, "#1436d2"], ["max", 49, 201, "#1436d2"], ["średni", 49, 212, "#1436d2"],
  ["Wystąpienie opadu", 5, 224, "#ff0000"], ["konwekcyjnego", 5, 237, "#ff0000"],
  ["Ciśnienie", 5, 263, "#000"], ["zredukowane", 5, 276, "#000"], ["do poziomu morza", 5, 289, "#000"],
  ["Wiatr na 10m:", 5, 318, "#000"], ["poryw powyżej skali", 10, 334, "#ff0000"], ["max porywy wiatru", 10, 348, "#ff0000"],
  ["prędkość wiatru", 10, 368, "#00008b"], ["w środku obszaru", 10, 381, "#00008b"], ["kierunek wiatru", 10, 409, "#00008b"],
  ["Wierzchołek chmur", 6, 429, BROWN], ["Podstawa chmur*", 6, 444, "#000"], ["o pokryciu", 6, 456, "#000"],
  ["> 7.9 okt.", 11, 468, "#000"], ["> 6.5 okt.", 11, 479, "#555"], ["> 4.5 okt.", 10, 490, "#999"], ["> 2.5 okt.", 11, 500, "#ddd"],
  ["Widzialność", 6, 526, ORANGE], ["Chmury:", 6, 543, "#000"], ["średnie", 10, 569, "#aaa"], ["niskie", 10, 581, "#333"],
  ["bardzo niskie", 10, 593, "#222"], ["Mgła", 6, 605, "#ffb300"]
];
svg.append("rect").attr("x", 11).attr("y", 505).attr("width", 43).attr("height", 12).attr("fill", SKY);
svg.append("rect").attr("x", 10).attr("y", 551).attr("width", 41).attr("height", 12).attr("fill", SKY);
txt("> 0.1 okt.", 11, 511, "#fff", 11);
txt("wysokie", 10, 557, "#fff", 11);
legendText.forEach(function(d) { txt(d[0], d[1], d[2], d[3], 11); });
txt("Czas uniwersalny (UTC)", 6, 622, "#000", 12);

var leaders = [
  ["#000", [[68,16],[132,16],[155,44]]], [BROWN, [[101,43],[120,43],[157,102]]],
  ["#ff0000", [[92,77],[116,77]]], ["#ff0000", [[132,76],[170,110]]],
  ["#0000ff", [[70,99],[135,99]]], ["#6a5acd", [[97,120],[115,120],[142,113]]],
  ["#ff0000", [[102,137],[137,137],[146,147]]], [RHRED, [[106,151],[111,151]]], [RHRED, [[130,151],[146,163]]],
  ["#000", [[104,166],[115,166]]], ["#000", [[130,167],[139,173]]],
  ["#00a000", [[70,179],[139,179]]], ["#00a000", [[80,190],[135,190]]],
  ["#1436d2", [[80,202],[113,202]]], ["#1436d2", [[129,202],[160,171]]], ["#1436d2", [[80,212],[129,212],[160,176]]],
  ["#ff0000", [[97,224],[142,224],[147,220]]], ["#000", [[52,263],[135,263]]],
  ["#ff0000", [[112,334],[117,334]]], ["#ff0000", [[130,334],[137,316]]], ["#ff0000", [[105,348],[130,348],[145,340]]],
  ["#00008b", [[92,367],[135,367]]], ["#00008b", [[86,410],[135,410]]], [BROWN, [[100,431],[135,431],[184,447]]],
  ["#000", [[57,468],[130,468],[190,456]]], ["#555", [[55,480],[143,480]]], ["#999", [[55,491],[130,491],[138,497]]],
  ["#ddd", [[55,500],[130,500],[137,505]]], [SKY, [[55,510],[135,510]]], [SKY, [[55,512],[135,512]]],
  [ORANGE, [[67,527],[125,527],[173,463]]], [SKY, [[51,556],[185,556]]], [SKY, [[51,558],[185,558]]],
  ["#aaa", [[50,570],[190,570]]], ["#333", [[40,582],[122,582]]], ["#333", [[74,594],[135,594],[150,590]]],
  ["#ffb300", [[27,605],[215,605],[218,590]]], ["#000", [[140,623],[150,623],[157,609]]]
];
var leaderLine = d3.line();
leaders.forEach(function(l) {
  svg.append("path").attr("d", leaderLine(l[1])).attr("fill", "none").attr("stroke", l[0]).attr("stroke-width", 1);
});
</script>
</body>
</html>
